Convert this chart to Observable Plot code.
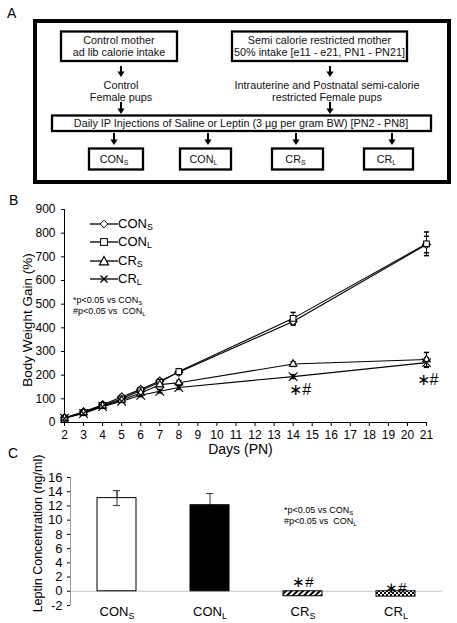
<!DOCTYPE html>
<html><head><meta charset="utf-8">
<script src="https://cdn.jsdelivr.net/npm/d3@7"></script>
<script src="https://cdn.jsdelivr.net/npm/@observablehq/plot@0.6"></script>
<style>
body{margin:0;background:#fff;font-family:"Liberation Sans",Arial,sans-serif;color:#000;}
#page{position:relative;width:457px;height:623px;overflow:hidden;background:#fff;}
.abs{position:absolute;}
.leg{position:absolute;font-size:13px;line-height:13px;white-space:nowrap;z-index:3;}
.leg sub,.note sub{font-size:0.68em;vertical-align:-0.25em;line-height:0;}
.note{position:absolute;font-size:9px;line-height:11px;white-space:nowrap;z-index:3;}
.plab{position:absolute;font-size:14px;z-index:3;}
</style></head><body><div id="page">
<div id="panelA" class="abs" style="left:0;top:0"></div>
<div id="plotB" class="abs" style="left:0;top:190px"></div>
<div id="plotC" class="abs" style="left:0;top:440px"></div>
<div class="plab" style="left:9px;top:192px">B</div>
<div class="plab" style="left:8px;top:445px">C</div>
<div id="legB"></div>
<div class="note" style="left:73px;top:295px">*p&lt;0.05 vs CON<sub>S</sub><br>#p&lt;0.05 vs&nbsp; CON<sub>L</sub></div>
<div class="note" style="left:284px;top:505px">*p&lt;0.05 vs CON<sub>S</sub><br>#p&lt;0.05 vs&nbsp; CON<sub>L</sub></div>
</div>
<script>
// ---------- data ----------
const days = [2, 3, 4, 5, 6, 7, 8, 14, 21];
const seriesNames = ["CONS", "CONL", "CRS", "CRL"];
const gainConS = [20, 45, 75, 108, 140, 175, 212, 427, 752];
const gainConL = [18, 42, 72, 100, 135, 170, 215, 440, 755];
const gainCrS  = [19, 42, 70, 95, 125, 160, 168, 247, 266];
const gainCrL  = [18, 38, 67, 90, 115, 132, 148, 194, 253];
const errConS  = [3, 4, 5, 6, 7, 8, 9, 15, 35];
const errConL  = [3, 4, 5, 6, 8, 10, 12, 25, 50];
const errCrS   = [3, 4, 5, 6, 7, 8, 9, 10, 30];
const errCrL   = [3, 4, 5, 5, 6, 7, 8, 8, 20];
const yTicksB = [0, 100, 200, 300, 400, 500, 600, 700, 800, 900];
const xTicksB = [2, 3, 4, 5, 6, 7, 8, 9, 10, 11, 12, 13, 14, 15, 16, 17, 18, 19, 20, 21];
const sigDaysB = [14, 21];

const groups = ["CONS", "CONL", "CRS", "CRL"];
const leptin = [13.1, 12.1, -0.7, -0.75];
const leptinErr = [1.05, 1.65, 0, 0];
const yTicksC = [-2, 0, 2, 4, 6, 8, 10, 12, 14, 16];
const sigGroupsC = ["CRS", "CRL"];

// ---------- panel A (diagram) ----------
(function(){
  const F = 'font-size="10.8" text-anchor="middle" fill="#111"';
  function arrow(x, y1, y2){
    return `<line x1="${x}" y1="${y1}" x2="${x}" y2="${y2-4}" stroke="#000" stroke-width="2"/>`+
           `<path d="M${x-3.6},${y2-5.5}L${x+3.6},${y2-5.5}L${x},${y2}Z" fill="#000"/>`;
  }
  function sub(x, y, base, s){
    return `<text x="${x}" y="${y}" ${F}>${base}<tspan font-size="7" dy="2.5">${s}</tspan></text>`;
  }
  let s = `<svg width="457" height="190" xmlns="http://www.w3.org/2000/svg" font-family="Liberation Sans, Arial, sans-serif">`;
  s += `<text x="7" y="18" font-size="14">A</text>`;
  s += `<rect x="35" y="21" width="414" height="161" fill="none" stroke="#000" stroke-width="4"/>`;
  s += `<rect x="61" y="31.5" width="116" height="29.5" fill="none" stroke="#000" stroke-width="2.3"/>`;
  s += `<text x="119" y="43.5" ${F}>Control mother</text><text x="119" y="55.5" ${F}>ad lib calorie intake</text>`;
  s += `<rect x="232" y="31.5" width="175" height="29.5" fill="none" stroke="#000" stroke-width="2.3"/>`;
  s += `<text x="319.5" y="43.5" ${F}>Semi calorie restricted mother</text><text x="319.5" y="55.5" ${F}>50% intake [e11 - e21, PN1 - PN21]</text>`;
  s += arrow(121, 66, 77) + arrow(330, 66, 77);
  s += `<text x="121" y="89" ${F}>Control</text><text x="121" y="101" ${F}>Female pups</text>`;
  s += `<text x="327" y="89" ${F}>Intrauterine and Postnatal semi-calorie</text><text x="327" y="101" ${F}>restricted Female pups</text>`;
  s += arrow(121, 102, 114) + arrow(330, 102, 114);
  s += `<rect x="52" y="115.5" width="379" height="15.5" fill="none" stroke="#000" stroke-width="2.3"/>`;
  s += `<text x="241" y="127" ${F}>Daily IP Injections of Saline or Leptin (3 µg per gram BW) [PN2 - PN8]</text>`;
  const bx = [[89, 54, 114, "CON", "S"], [180, 51, 208, "CON", "L"], [272, 51, 296, "CR", "S"], [364, 49, 392, "CR", "L"]];
  for (const [x, w, ax, b, t] of bx) {
    s += arrow(ax, 133, 145);
    s += `<rect x="${x}" y="148.5" width="${w}" height="21" fill="none" stroke="#000" stroke-width="2.3"/>`;
    s += sub(x + w/2 - 2, 162.5, b, t);
  }
  s += `</svg>`;
  document.getElementById("panelA").innerHTML = s;
})();

// ---------- panel B ----------
const gains = [gainConS, gainConL, gainCrS, gainCrL];
const errs = [errConS, errConL, errCrS, errCrL];
const rowsB = [];
seriesNames.forEach((name, si) => days.forEach((d, i) =>
  rowsB.push({series: name, day: d, value: gains[si][i], err: errs[si][i]})));
const symbolOf = {CONS: "diamond2", CONL: "square2", CRS: "triangle2", CRL: "times"};
const capSymbol = {draw(ctx, size){ const w = 2.6; ctx.moveTo(-w, 0); ctx.lineTo(w, 0); }};
const sigB = sigDaysB.map(d => ({day: d, value: gainCrL[days.indexOf(d)]}));

const plotB = Plot.plot({
  width: 457, height: 272,
  marginLeft: 64, marginRight: 31, marginTop: 19, marginBottom: 40,
  style: {fontFamily: "Liberation Sans, Arial, sans-serif", fontSize: "12px", color: "#000", background: "#fff"},
  x: {type: "linear", domain: [2, 21], ticks: xTicksB, tickSize: 4, tickPadding: 4, label: null, tickFormat: d => d},
  y: {domain: [0, 900], ticks: yTicksB, tickSize: 3, tickPadding: 6, label: null, tickFormat: d => d},
  marks: [
    Plot.ruleY([0], {stroke: "#000"}),
    Plot.ruleX([2], {stroke: "#000"}),
    Plot.ruleX(rowsB, {x: "day", y1: d => d.value - d.err, y2: d => d.value + d.err, stroke: "#000", strokeWidth: 1}),
    Plot.dot(rowsB, {x: "day", y: d => d.value + d.err, symbol: capSymbol, r: 3, stroke: "#000", fill: "none"}),
    Plot.dot(rowsB, {x: "day", y: d => d.value - d.err, symbol: capSymbol, r: 3, stroke: "#000", fill: "none"}),
    Plot.line(rowsB, {x: "day", y: "value", z: "series", stroke: "#000", strokeWidth: 1.1}),
    ...seriesNames.map(n => Plot.dot(rowsB.filter(r => r.series === n), {
      x: "day", y: "value", symbol: symbolOf[n], r: n === "CRL" ? 4 : 3.6,
      stroke: "#000", strokeWidth: 1.1, fill: n === "CRL" ? "none" : "#fff"})),
    Plot.text(sigB.slice(0, 1), {x: "day", y: "value", text: () => "\u2217#", dx: 7, dy: 13, fontSize: 16}),
    Plot.text(sigB.slice(1), {x: "day", y: "value", text: () => "\u2217#", dx: 1, dy: 17, fontSize: 16}),
    Plot.text(["Body Weight Gain (%)"], {frameAnchor: "left", textAnchor: "middle", rotate: -90, dx: -37, dy: 4, fontSize: 13.5}),
    Plot.text(["Days (PN)"], {frameAnchor: "bottom", dy: 31, dx: -5, fontSize: 14})
  ]
});
document.getElementById("plotB").append(plotB);

// legend for B
(function(){
  const tops = [224, 242, 261, 279];
  const names = [["CON", "S"], ["CON", "L"], ["CR", "S"], ["CR", "L"]];
  const glyph = {
    CONS: '<path d="M14,2.2L17.8,6L14,9.8L10.2,6Z" fill="#fff" stroke="#000"/>',
    CONL: '<rect x="10.6" y="2.6" width="6.8" height="6.8" fill="#fff" stroke="#000"/>',
    CRS: '<path d="M14,1.5L18.5,9.8L9.5,9.8Z" fill="#fff" stroke="#000" stroke-width="1.2"/>',
    CRL: '<path d="M10.5,2.5L17.5,9.5M17.5,2.5L10.5,9.5" stroke="#000" stroke-width="1.4"/>'
  };
  let h = "";
  seriesNames.forEach((n, i) => {
    h += `<svg class="abs" style="left:90px;top:${tops[i]-6}px;z-index:3" width="28" height="12"><line x1="0" x2="28" y1="6" y2="6" stroke="#000" stroke-width="1.3"/>${glyph[n]}</svg>`;
    h += `<div class="leg" style="left:118px;top:${tops[i]-7}px">${names[i][0]}<sub>${names[i][1]}</sub></div>`;
  });
  document.getElementById("legB").innerHTML = h;
})();

// ---------- panel C ----------
const rowsC = groups.map((g, i) => ({group: g, value: leptin[i], err: leptinErr[i]}));
const fillOf = {CONS: "#fff", CONL: "#000", CRS: "url(#hatchC)", CRL: "url(#checkC)"};
const plotC = Plot.plot({
  width: 457, height: 183,
  marginLeft: 70, marginRight: 15, marginTop: 37, marginBottom: 18,
  style: {fontFamily: "Liberation Sans, Arial, sans-serif", fontSize: "13px", color: "#000", background: "none"},
  x: {type: "band", domain: groups, paddingInner: 0.58, paddingOuter: 0.29, tickSize: 0, tickPadding: 1, label: null},
  y: {domain: [-2, 16], ticks: yTicksC, tickSize: 3, tickPadding: 5, label: null, tickFormat: d => d},
  color: {type: "identity"},
  marks: [
    Plot.ruleY([0], {stroke: "#c8c8c8"}),
    Plot.ruleX(rowsC.filter(d => d.err > 0), {x: "group", y1: d => d.value - d.err, y2: d => d.value + d.err, stroke: "#333"}),
    Plot.tickY(rowsC.filter(d => d.err > 0), {x: "group", y: d => d.value + d.err, stroke: "#333", insetLeft: 16, insetRight: 16}),
    Plot.barY(rowsC, {x: "group", y: "value", fill: d => fillOf[d.group], stroke: "#000", strokeWidth: 1}),
    Plot.ruleX(rowsC.filter(d => d.err > 0 && d.group === "CONS"), {x: "group", y1: d => d.value - d.err, y2: d => d.value + d.err, stroke: "#333"}),
    Plot.tickY(rowsC.filter(d => d.err > 0 && d.group === "CONS"), {x: "group", y: d => d.value - d.err, stroke: "#333", insetLeft: 16, insetRight: 16}),
    Plot.text(sigGroupsC.slice(0, 1), {x: d => d, y: 0, text: () => "\u2217#", dy: -9, fontSize: 15}),
    Plot.text(sigGroupsC.slice(1), {x: d => d, y: 0, text: () => "\u2217#", dy: -3, fontSize: 15}),
    Plot.text(["Leptin Concentration (ng/ml)"], {frameAnchor: "left", textAnchor: "middle", rotate: -90, dx: -33, dy: -8, fontSize: 12.5})
  ]
});
document.getElementById("plotC").append(plotC);

// patterns, axis lines and subscripts (post-processing of the Plot SVGs)
(function(){
  const svgC = d3.select(plotC);
  svgC.insert("defs", ":first-child").html(
    '<pattern id="hatchC" patternUnits="userSpaceOnUse" width="4" height="4" patternTransform="rotate(45)">' +
    '<rect width="4" height="4" fill="#fff"/><rect width="2" height="4" fill="#000"/></pattern>' +
    '<pattern id="checkC" patternUnits="userSpaceOnUse" width="4" height="4">' +
    '<rect width="4" height="4" fill="#fff"/><rect width="2" height="2" fill="#000"/><rect x="2" y="2" width="2" height="2" fill="#000"/></pattern>');
  svgC.append("line").attr("x1", 70.5).attr("x2", 70.5).attr("y1", 37).attr("y2", 165).attr("stroke", "#999");
  svgC.selectAll("text").each(function(){
    const t = this.textContent;
    if (groups.includes(t) && !this.querySelector("tspan")) {
      this.textContent = "";
      const base = t.slice(0, -1), s = t.slice(-1);
      d3.select(this).append("tspan").text(base);
      d3.select(this).append("tspan").attr("font-size", "9").attr("dy", "3").text(s);
    }
  });
})();
</script>
</body></html>
